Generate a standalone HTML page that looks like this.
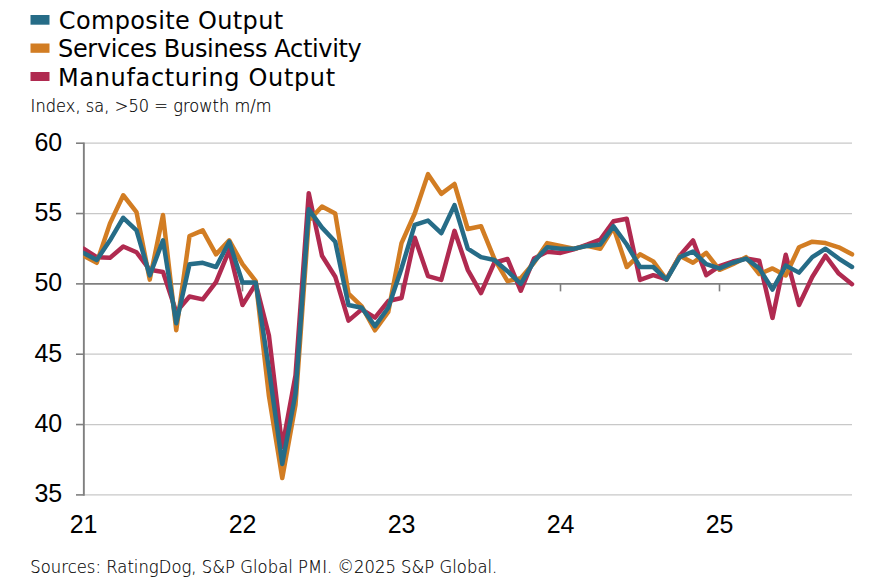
<!DOCTYPE html>
<html><head><meta charset="utf-8"><title>PMI chart</title>
<style>
html,body{margin:0;padding:0;background:#fff;}
body{width:873px;height:588px;position:relative;overflow:hidden;}
.lg{position:absolute;left:30.5px;width:19px;height:9.5px;}
.lt{position:absolute;left:58px;font-family:"DejaVu Sans","Liberation Sans",sans-serif;font-size:24px;color:#000;white-space:nowrap;line-height:24px;height:24px;}
.sub{position:absolute;left:30px;transform-origin:0 100%;transform:scaleY(1.1);-webkit-text-stroke:0.18px #000;font-family:"DejaVu Sans","Liberation Sans",sans-serif;font-weight:200;font-size:16.2px;color:#000;white-space:nowrap;line-height:16px;}
.foot{position:absolute;left:30px;transform-origin:0 100%;transform:scaleY(1.05);-webkit-text-stroke:0.15px #000;font-family:"DejaVu Sans","Liberation Sans",sans-serif;font-weight:200;font-size:16.4px;color:#000;white-space:nowrap;line-height:16px;}
</style></head><body>
<svg width="873" height="588" viewBox="0 0 873 588" style="position:absolute;left:0;top:0">
<rect x="30.5" y="15" width="19" height="9.7" fill="#266C87"/>
<rect x="30.5" y="43.5" width="19" height="9.3" fill="#D27D23"/>
<rect x="30.5" y="72" width="19" height="9" fill="#B02A50"/>
<line x1="83.50" y1="143.20" x2="852.00" y2="143.20" stroke="#c8c8c8" stroke-width="1.2"/>
<line x1="83.50" y1="213.54" x2="852.00" y2="213.54" stroke="#c8c8c8" stroke-width="1.2"/>
<line x1="83.50" y1="354.22" x2="852.00" y2="354.22" stroke="#c8c8c8" stroke-width="1.2"/>
<line x1="83.50" y1="424.56" x2="852.00" y2="424.56" stroke="#c8c8c8" stroke-width="1.2"/>
<line x1="83.50" y1="494.90" x2="852.00" y2="494.90" stroke="#c8c8c8" stroke-width="1.2"/>
<line x1="83.85" y1="142.40" x2="83.85" y2="495.70" stroke="#7f7f7f" stroke-width="1.9"/>
<line x1="76" y1="143.20" x2="83.50" y2="143.20" stroke="#7f7f7f" stroke-width="1.6"/>
<line x1="76" y1="213.54" x2="83.50" y2="213.54" stroke="#7f7f7f" stroke-width="1.6"/>
<line x1="76" y1="283.88" x2="83.50" y2="283.88" stroke="#7f7f7f" stroke-width="1.6"/>
<line x1="76" y1="354.22" x2="83.50" y2="354.22" stroke="#7f7f7f" stroke-width="1.6"/>
<line x1="76" y1="424.56" x2="83.50" y2="424.56" stroke="#7f7f7f" stroke-width="1.6"/>
<line x1="76" y1="494.90" x2="83.50" y2="494.90" stroke="#7f7f7f" stroke-width="1.6"/>
<line x1="83.50" y1="283.88" x2="852.00" y2="283.88" stroke="#7f7f7f" stroke-width="1.6"/>
<line x1="242.50" y1="283.88" x2="242.50" y2="291.38" stroke="#7f7f7f" stroke-width="1.6"/>
<line x1="401.50" y1="283.88" x2="401.50" y2="291.38" stroke="#7f7f7f" stroke-width="1.6"/>
<line x1="560.50" y1="283.88" x2="560.50" y2="291.38" stroke="#7f7f7f" stroke-width="1.6"/>
<line x1="719.50" y1="283.88" x2="719.50" y2="291.38" stroke="#7f7f7f" stroke-width="1.6"/>

<defs><clipPath id="cp"><rect x="83.2" y="100" width="790" height="420"/></clipPath></defs>
<g fill="none" stroke-width="4.5" stroke-linejoin="round" stroke-linecap="round" clip-path="url(#cp)">
<polyline stroke="#B02A50" points="83.50,248.71 96.75,257.15 110.00,257.85 123.25,246.46 136.50,252.23 149.75,269.81 163.00,272.06 176.25,312.02 189.50,296.54 202.75,299.35 216.00,282.05 229.25,250.12 242.50,304.98 255.75,283.88 269.00,335.93 282.25,447.07 295.50,375.32 308.75,193.14 322.00,255.74 335.25,276.71 348.50,320.60 361.75,309.34 375.00,317.64 388.25,301.04 401.50,297.95 414.75,237.74 428.00,276.14 441.25,279.94 454.50,230.84 467.75,269.81 481.00,293.02 494.25,262.78 507.50,258.98 520.75,290.77 534.00,258.56 547.25,251.66 560.50,252.93 573.75,249.27 587.00,244.63 600.25,239.57 613.50,221.28 626.75,218.75 640.00,279.94 653.25,275.16 666.50,279.24 679.75,255.74 693.00,240.41 706.25,275.16 719.50,266.15 732.75,261.51 746.00,258.56 759.25,260.67 772.50,317.92 785.75,254.76 799.00,304.98 812.25,276.99 825.50,255.74 838.75,273.61 852.00,284.16"/>
<polyline stroke="#D27D23" points="83.50,255.74 96.75,262.78 110.00,223.39 123.25,195.25 136.50,212.13 149.75,279.66 163.00,214.95 176.25,330.30 189.50,236.05 202.75,230.42 216.00,254.34 229.25,240.27 242.50,264.18 255.75,281.07 269.00,396.42 282.25,478.02 295.50,404.86 308.75,220.57 322.00,206.51 335.25,213.54 348.50,293.73 361.75,306.39 375.00,330.30 388.25,312.02 401.50,243.08 414.75,213.54 428.00,174.15 441.25,193.84 454.50,184.00 467.75,229.01 481.00,226.20 494.25,258.56 507.50,281.07 520.75,278.25 534.00,262.78 547.25,243.08 560.50,245.90 573.75,248.71 587.00,245.90 600.25,248.71 613.50,227.61 626.75,267.00 640.00,254.34 653.25,261.37 666.50,279.66 679.75,255.74 693.00,262.78 706.25,252.93 719.50,269.81 732.75,264.18 746.00,257.15 759.25,274.03 772.50,268.41 785.75,275.44 799.00,247.30 812.25,241.68 825.50,243.08 838.75,247.30 852.00,254.34"/>
<polyline stroke="#266C87" points="83.50,252.93 96.75,259.96 110.00,240.27 123.25,217.76 136.50,230.42 149.75,275.44 163.00,240.27 176.25,323.27 189.50,264.18 202.75,262.78 216.00,267.00 229.25,241.68 242.50,282.47 255.75,282.47 269.00,369.69 282.25,463.95 295.50,393.61 308.75,209.32 322.00,227.61 335.25,241.68 348.50,304.98 361.75,307.80 375.00,326.08 388.25,307.80 401.50,268.41 414.75,224.79 428.00,220.57 441.25,233.24 454.50,205.10 467.75,248.71 481.00,257.15 494.25,259.96 507.50,271.22 520.75,283.88 534.00,261.37 547.25,247.30 560.50,248.71 573.75,248.71 587.00,245.90 600.25,244.49 613.50,226.20 626.75,244.49 640.00,267.00 653.25,267.00 666.50,279.66 679.75,257.15 693.00,251.52 706.25,264.18 719.50,268.41 732.75,262.78 746.00,258.56 759.25,268.41 772.50,289.51 785.75,265.59 799.00,272.63 812.25,257.15 825.50,248.71 838.75,258.56 852.00,267.00"/>
</g>
<g font-family="Liberation Sans, Arial, sans-serif" font-size="25" fill="#000">
<text transform="translate(62.2,150.70) scale(1,1.055)" text-anchor="end">60</text>
<text transform="translate(62.2,221.04) scale(1,1.055)" text-anchor="end">55</text>
<text transform="translate(62.2,291.38) scale(1,1.055)" text-anchor="end">50</text>
<text transform="translate(62.2,361.72) scale(1,1.055)" text-anchor="end">45</text>
<text transform="translate(62.2,432.06) scale(1,1.055)" text-anchor="end">40</text>
<text transform="translate(62.2,502.40) scale(1,1.055)" text-anchor="end">35</text>
<text transform="translate(83.60,532.6) scale(1,1.055)" text-anchor="middle">21</text>
<text transform="translate(242.60,532.6) scale(1,1.055)" text-anchor="middle">22</text>
<text transform="translate(401.60,532.6) scale(1,1.055)" text-anchor="middle">23</text>
<text transform="translate(560.60,532.6) scale(1,1.055)" text-anchor="middle">24</text>
<text transform="translate(719.60,532.6) scale(1,1.055)" text-anchor="middle">25</text>
</g>
</svg>
<div class="lt" style="top:9px;left:58.8px;letter-spacing:0.35px">Composite Output</div>
<div class="lt" style="top:36.6px;letter-spacing:-0.33px">Services Business Activity</div>
<div class="lt" style="top:66px;letter-spacing:0.65px">Manufacturing Output</div>
<div class="sub" style="top:99px;left:30.6px;letter-spacing:0.06px">Index, sa, &gt;50 = growth m/m</div>
<div class="foot" style="top:560px;left:30.3px;letter-spacing:0.04px">Sources: RatingDog, S&amp;P Global PMI. ©2025 S&amp;P Global.</div>
</body></html>
